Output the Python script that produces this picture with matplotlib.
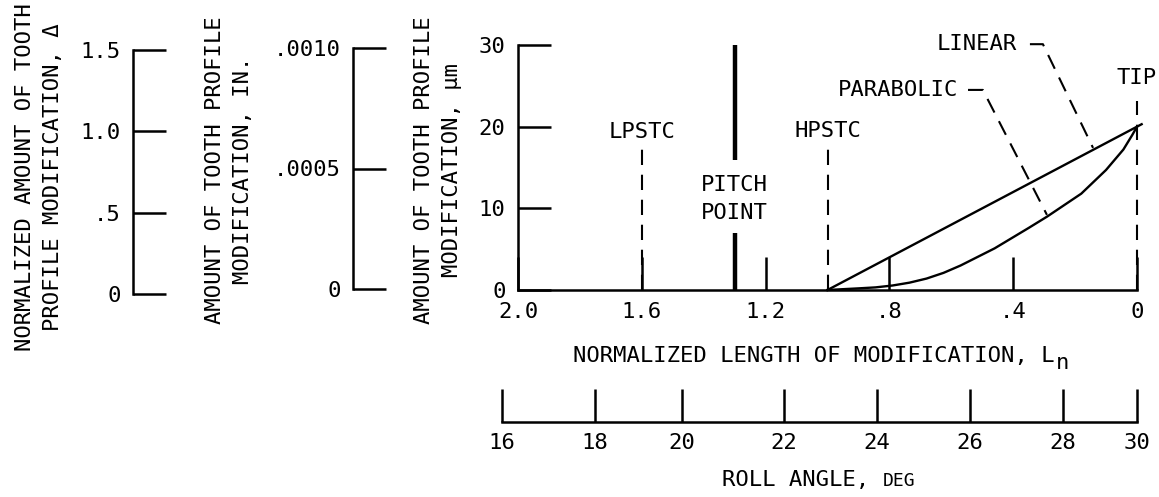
import matplotlib.pyplot as plt

plt.rcParams['font.family'] = ['DejaVu Sans Mono', 'DejaVu Sans']
plt.rcParams['font.size'] = 16
plt.rcParams['lines.scale_dashes'] = False

# main scale: normalized length of modification, runs from 2.0 down to 0
ln_ticks = [2.0, 1.6, 1.2, 0.8, 0.4, 0.0]
ln_labels = ['2.0', '1.6', '1.2', '.8', '.4', '0']
um_ticks = [0, 10, 20, 30]
um_labels = ['0', '10', '20', '30']

# companion scales on the left
delta_ticks = [0, 0.5, 1.0, 1.5]
delta_labels = ['0', '.5', '1.0', '1.5']
inch_ticks = [0, 0.0005, 0.0010]
inch_labels = ['0', '.0005', '.0010']

# roll angle scale under the plot (tick positions given on the Ln scale)
roll_deg = [16, 18, 20, 22, 24, 26, 28, 30]
roll_ln = [2.05, 1.75, 1.47, 1.14, 0.84, 0.54, 0.24, 0.0]

# modification curves (Ln, micrometres)
linear_ln = [1.0, -0.015]
linear_um = [0.0, 20.3]
parab_ln = [1.0, 0.9, 0.845, 0.79, 0.735, 0.68, 0.625, 0.57, 0.46, 0.35, 0.29,
            0.18, 0.1, 0.044, 0.015, 0.0]
parab_um = [0.0, 0.2, 0.32, 0.55, 0.9, 1.4, 2.1, 3.0, 5.1, 7.6, 9.0,
            11.8, 14.7, 17.2, 19.0, 20.0]

# reference positions along the profile
marker_names = ['LPSTC', 'HPSTC', 'TIP']
marker_ln = [1.6, 1.0, 0.0]
marker_top = [18.0, 18.0, 23.2]
marker_text_y = [19.3, 19.5, 26.0]
pitch_ln = 1.3
pitch_low = [0.0, 7.0]
pitch_high = [15.9, 30.0]

# leaders for the curve names
parab_lead_ln = [0.546, 0.498, 0.291]
parab_lead_um = [24.5, 24.5, 9.2]
linear_lead_ln = [0.346, 0.304, 0.142]
linear_lead_um = [30.1, 30.1, 17.4]

W, H = 1159, 497
fig = plt.figure(figsize=(W / 100, H / 100), dpi=100)


def px_axes(x0, x1, y_top, y_bot):
    return fig.add_axes([x0 / W, 1 - y_bot / H, (x1 - x0) / W, (y_bot - y_top) / H])


def left_scale(ax, lo, hi, ticks, labels):
    ax.set_ylim(lo, hi)
    for s in ['top', 'right', 'bottom']:
        ax.spines[s].set_visible(False)
    ax.spines['left'].set_linewidth(1.8)
    ax.set_xticks([])
    ax.set_yticks(ticks)
    ax.set_yticklabels(labels)
    ax.tick_params(axis='y', direction='in', length=24, width=1.8, pad=9)
    ax.patch.set_visible(False)


ax_d = px_axes(133, 170, 50, 294)
left_scale(ax_d, 0, 1.5, delta_ticks, delta_labels)
ax_in = px_axes(353, 394, 48, 289)
left_scale(ax_in, 0, 0.001, inch_ticks, inch_labels)

dash = (0, (11, 7))
ax = px_axes(518, 1137, 45, 290)
ax.set_xlim(2.0, 0.0)
ax.set_ylim(0, 30)
for s in ['top', 'right']:
    ax.spines[s].set_visible(False)
for s in ['left', 'bottom']:
    ax.spines[s].set_linewidth(1.8)
ax.set_xticks(ln_ticks)
ax.set_xticklabels(ln_labels)
ax.set_yticks(um_ticks)
ax.set_yticklabels(um_labels)
ax.tick_params(direction='in', length=24, width=1.8, pad=9)
ax.patch.set_visible(False)

ax.plot(linear_ln, linear_um, color='black', lw=1.7, clip_on=False)
ax.plot(parab_ln, parab_um, color='black', lw=1.7, clip_on=False, solid_joinstyle='round')
ax.vlines(marker_ln, 0, marker_top, colors='black', linestyles=[dash], lw=1.5, clip_on=False)
for name, x, y in zip(marker_names, marker_ln, marker_text_y):
    ax.text(x, y, name, ha='center', va='center')
ax.vlines([pitch_ln, pitch_ln], [pitch_low[0], pitch_high[0]], [pitch_low[1], pitch_high[1]],
          colors='black', lw=3.2, clip_on=False)
ax.text(pitch_ln, 11.2, 'PITCH\nPOINT', ha='center', va='center', linespacing=1.5)
ax.plot(parab_lead_ln, parab_lead_um, color='black', lw=1.5, linestyle=dash, clip_on=False)
ax.plot(linear_lead_ln, linear_lead_um, color='black', lw=1.5, linestyle=dash, clip_on=False)
ax.text(0.772, parab_lead_um[0], 'PARABOLIC', ha='center', va='center')
ax.text(0.517, linear_lead_um[0], 'LINEAR', ha='center', va='center')

# roll angle scale
ax_r = px_axes(502, 1137, 380, 421.7)
ax_r.set_xlim(roll_ln[0], roll_ln[-1])
for s in ['top', 'right', 'left']:
    ax_r.spines[s].set_visible(False)
ax_r.spines['bottom'].set_linewidth(1.8)
ax_r.set_yticks([])
ax_r.set_xticks(roll_ln)
ax_r.set_xticklabels([str(d) for d in roll_deg])
ax_r.tick_params(axis='x', direction='in', length=24, width=1.8, pad=8)
ax_r.patch.set_visible(False)

# x titles, with the subscript n and the small "DEG" set as separate pieces
t_ln = fig.text(573 / W, 1 - 362 / H, 'NORMALIZED LENGTH OF MODIFICATION, L', ha='left', va='baseline')
t_roll = fig.text(722 / W, 1 - 486 / H, 'ROLL ANGLE, ', ha='left', va='baseline')
fig.canvas.draw()
r = fig.canvas.get_renderer()
bb = t_ln.get_window_extent(r)
fig.text(bb.x1 / W + 1 / W, 1 - 369 / H, 'n', ha='left', va='baseline')
bb = t_roll.get_window_extent(r)
fig.text(bb.x1 / W, 1 - 486 / H, 'DEG', ha='left', va='baseline', fontsize=13)

# axis titles for the three vertical scales
ylabel_kw = dict(rotation=90, ha='center', va='center', multialignment='center', linespacing=1.45)
fig.text(39 / W, 1 - 177 / H, 'NORMALIZED AMOUNT OF TOOTH\nPROFILE MODIFICATION, \u0394', **ylabel_kw)
fig.text(229 / W, 1 - 170 / H, 'AMOUNT OF TOOTH PROFILE\nMODIFICATION, IN.', **ylabel_kw)
fig.text(438 / W, 1 - 170 / H, 'AMOUNT OF TOOTH PROFILE\nMODIFICATION, \u03bcm', **ylabel_kw)

fig.savefig('out.png', dpi=100)
